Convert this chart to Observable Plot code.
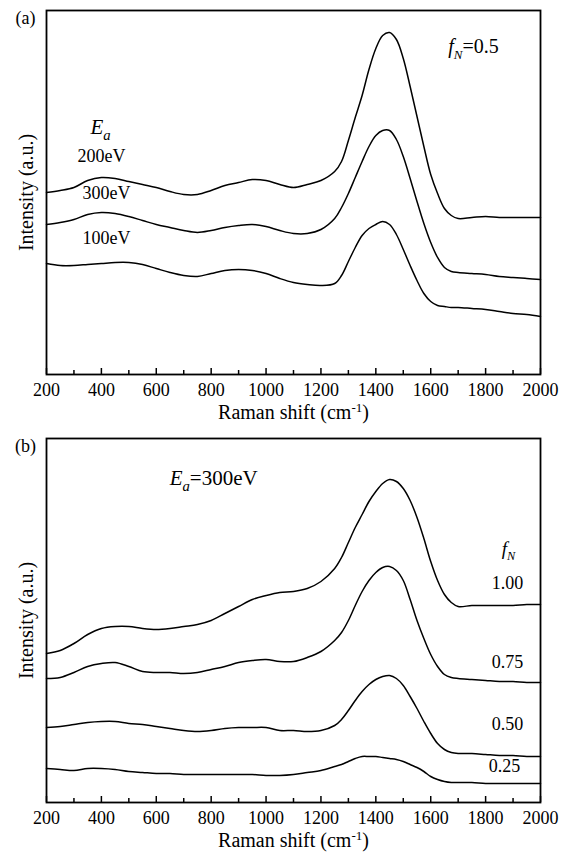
<!DOCTYPE html>
<html>
<head>
<meta charset="utf-8">
<script src="https://cdn.jsdelivr.net/npm/d3@7"></script>
<script src="https://cdn.jsdelivr.net/npm/@observablehq/plot@0.6"></script>
<style>
  html, body { margin: 0; padding: 0; background: #fff; }
  #chart svg { display: block; font-family: "Liberation Serif", "Times New Roman", serif; }
  #chart svg text { font-family: "Liberation Serif", "Times New Roman", serif; }
</style>
</head>
<body>
<div id="chart"></div>
<script>
// ---------- data (intensity in arbitrary units) ----------
const ramanShift = [200,250,300,350,400,450,500,550,600,650,700,750,800,850,900,950,1000,1050,1100,1150,1200,1250,1275,1300,1325,1350,1375,1400,1425,1450,1475,1500,1525,1550,1575,1600,1625,1650,1675,1700,1750,1800,1850,1900,1950,2000];

// panel (a): f_N = 0.5, different ion energies E_a
const intensityA_200eV = [182,184,187,194,197,196,193,190,187,183,180,180,184,189,192,195,194,190,187,190,194,203,213,234,257,279,305,326,339,342,335,316,288,258,228,200,181,166,159,156,157,158,157,157,157,157];
const intensityA_300eV = [150,152,155,160,162,161,158,154,150,147,144,142,144,147,149,150,148,144,141,141,145,156,167,181,197,213,228,239,244,244,235,218,196,173,151,132,117,107,103,102,101,100,98,97,96,95];
const intensityA_100eV = [111,109,109,110,111,112,112,110,106,102,99,98,101,104,105,104,101,96,92,90,89,91,99,113,127,139,146,150,153,150,140,125,109,94,81,73,69,68,67,67,66,65,63,61,60,58];

// panel (b): E_a = 300 eV, different f_N
const intensityB_100 = [149,152,159,168,174,176,176,174,173,174,176,178,182,189,196,203,207,210,211,214,221,234,245,260,275,288,301,311,319,323,321,314,302,285,264,241,222,208,200,196,197,197,197,197,198,198];
const intensityB_075 = [124,125,130,136,139,140,136,131,130,130,129,130,133,136,140,142,143,141,141,145,151,162,170,182,197,211,222,230,235,236,232,222,203,182,164,148,136,128,125,124,123,122,121,121,120,120];
const intensityB_050 = [75,76,78,80,81,81,79,78,76,74,72,71,72,74,75,75,75,72,72,71,72,77,83,92,102,111,118,123,126,127,124,117,106,94,81,69,59,53,50,49,49,48,47,47,46,46];
const intensityB_025 = [34,33,32,34,34,33,31,30,29,29,28,28,28,28,28,28,27,27,28,30,32,36,38,41,44,46,46,46,45,44,43,41,38,35,31,26,23,21,20,20,20,19,19,19,19,19];

const energyLabels = ["200eV", "300eV", "100eV"];
const fractionLabels = ["1.00", "0.75", "0.50", "0.25"];
const majorTicks = [200,400,600,800,1000,1200,1400,1600,1800,2000];
const minorTicks = [300,500,700,900,1100,1300,1500,1700,1900];
const xLabel = "Raman shift (cm-1)";
const yLabel = "Intensity (a.u.)";

// ---------- helpers ----------
const FONT = "Liberation Serif";

function rows(series) {
  return series.flatMap(s => ramanShift.map((x, i) => ({x, y: s.values[i], key: s.key})));
}

function label(txt, opts) {
  return Plot.text([txt], {text: d => d, fontFamily: FONT, ...opts});
}

function panel({tag, marginTop, marginBottom, series, extra}) {
  const H = 426;
  const innerH = H - marginTop - marginBottom;
  return Plot.plot({
    width: 567, height: H,
    marginLeft: 46, marginRight: 27, marginTop, marginBottom,
    style: {fontFamily: FONT, fontSize: "18px", color: "black", background: "white", overflow: "visible"},
    x: {domain: [200, 2000]},
    y: {domain: [0, 364], axis: null},
    marks: [
      Plot.line(rows(series), {x: "x", y: "y", z: "key", stroke: "black", strokeWidth: 1.5, curve: "catmull-rom"}),
      Plot.tickX(majorTicks, {x: d => d, insetTop: innerH - 6, stroke: "black", strokeWidth: 1.5}),
      Plot.tickX(minorTicks, {x: d => d, insetTop: innerH - 4, stroke: "black", strokeWidth: 1.5}),
      Plot.axisX(majorTicks, {tickSize: 0, tickPadding: 9, tickFormat: d => String(d), label: null, fontSize: 18, fontFamily: FONT}),
      Plot.frame({stroke: "black", strokeWidth: 1.8}),
      label(xLabel, {frameAnchor: "bottom", dy: 38, lineAnchor: "middle", textAnchor: "middle", fontSize: 20}),
      label(yLabel, {frameAnchor: "left", dx: -20, rotate: -90, lineAnchor: "middle", textAnchor: "middle", fontSize: 20}),
      label(tag, {frameAnchor: "top-left", dx: -21, dy: 8, lineAnchor: "middle", textAnchor: "middle", fontSize: 18}),
      ...extra
    ]
  });
}

// rich text: subscripts / superscripts / italics, kept as real text
const richMap = {
  "Ea": [{t: "E", i: 1}, {t: "a", i: 1, s: 6, z: "70%"}],
  "fN=0.5": [{t: "f", i: 1}, {t: "N", i: 1, s: 6, z: "65%"}, {t: "=0.5"}],
  "Ea=300eV": [{t: "E", i: 1}, {t: "a", i: 1, s: 6, z: "70%"}, {t: "=300eV"}],
  "fN": [{t: "f", i: 1}, {t: "N", i: 1, s: 5, z: "65%"}],
  "Raman shift (cm-1)": [{t: "Raman shift (cm"}, {t: "-1", s: -7, z: "65%"}, {t: ")"}]
};
function richify(svg) {
  d3.select(svg).selectAll("text").each(function () {
    const parts = richMap[this.textContent];
    if (!parts) return;
    const el = d3.select(this);
    el.text(null);
    let cur = 0;
    for (const p of parts) {
      const ts = el.append("tspan").text(p.t);
      if (p.i) ts.attr("font-style", "italic");
      if (p.z) ts.attr("font-size", p.z);
      const target = p.s || 0;
      if (target !== cur) ts.attr("dy", target - cur);
      cur = target;
    }
  });
}

// ---------- panel (a) ----------
const plotA = panel({
  tag: "(a)", marginTop: 10, marginBottom: 52,
  series: [
    {key: energyLabels[0], values: intensityA_200eV},
    {key: energyLabels[1], values: intensityA_300eV},
    {key: energyLabels[2], values: intensityA_100eV}
  ],
  extra: [
    label("Ea", {x: 397, y: 247, fontSize: 21}),
    label(energyLabels[0], {x: 400, y: 218, fontSize: 18}),
    label(energyLabels[1], {x: 419, y: 181, fontSize: 18}),
    label(energyLabels[2], {x: 419, y: 136, fontSize: 18}),
    label("fN=0.5", {x: 1756, y: 328, fontSize: 20})
  ]
});

// ---------- panel (b) ----------
const plotB = panel({
  tag: "(b)", marginTop: 12, marginBottom: 50,
  series: [
    {key: fractionLabels[0], values: intensityB_100},
    {key: fractionLabels[1], values: intensityB_075},
    {key: fractionLabels[2], values: intensityB_050},
    {key: fractionLabels[3], values: intensityB_025}
  ],
  extra: [
    label("Ea=300eV", {x: 809, y: 324, fontSize: 21}),
    label("fN", {x: 1883, y: 254, fontSize: 19}),
    label(fractionLabels[0], {x: 1880, y: 219, fontSize: 18}),
    label(fractionLabels[1], {x: 1880, y: 140, fontSize: 18}),
    label(fractionLabels[2], {x: 1880, y: 78, fontSize: 18}),
    label(fractionLabels[3], {x: 1869, y: 36, fontSize: 18})
  ]
});

richify(plotA);
richify(plotB);
const chart = document.getElementById("chart");
chart.appendChild(plotA);
chart.appendChild(plotB);
</script>
</body>
</html>
